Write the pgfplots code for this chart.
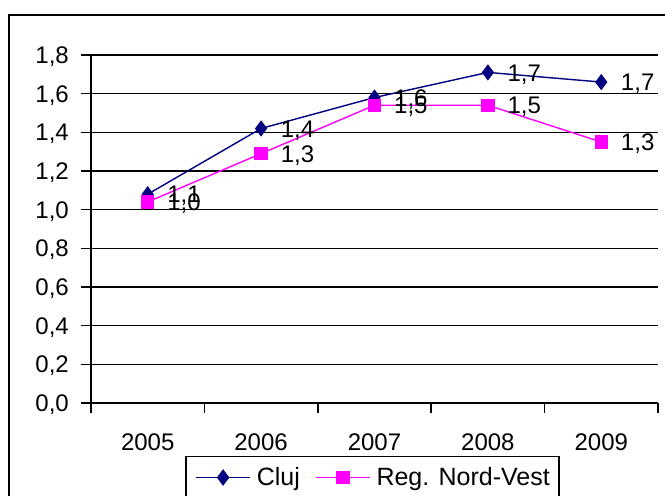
\documentclass[border=0pt]{standalone}
\usepackage{pgfplots}
\pgfplotsset{compat=1.18}
\usepackage{fontspec}
\setmainfont{Liberation Sans}
\definecolor{cluj}{RGB}{0,0,128}
\definecolor{nordvest}{RGB}{255,0,255}

\begin{document}
\begin{tikzpicture}[font=\fontsize{24}{28}\selectfont]
% outer chart frame (right and bottom edges lie outside the page)
\draw[line width=1.6pt] (9pt,-40pt) rectangle (720pt,481pt);
\begin{axis}[
    at={(91pt,93pt)}, anchor=south west,
    scale only axis, width=567pt, height=348pt,
    xmin=-0.5, xmax=4.5, ymin=0, ymax=1.8,
    axis x line*=bottom, axis y line*=left,
    axis line style={line width=1.6pt, -},
    xtick={0,1,2,3,4},
    xticklabels={2005,2006,2007,2008,2009},
    major x tick style={draw=none},
    minor xtick={-0.5,0.5,1.5,2.5,3.5,4.5},
    ytick={0,0.2,0.4,0.6,0.8,1.0,1.2,1.4,1.6,1.8},
    tick align=outside,
    major tick length=10pt, minor tick length=10pt,
    tick style={black, line width=1.6pt},
    ymajorgrids, grid style={black, line width=1.6pt},
    xticklabel style={inner sep=0pt, anchor=base, yshift=-37pt},
    yticklabel style={inner sep=0pt, anchor=base east, xshift=-12pt, yshift=-8.6pt},
    /pgf/number format/.cd, fixed, fixed zerofill, precision=1, use comma,
      assume math mode=true,
    /pgfplots/.cd,
    nodes near coords,
    point meta=explicit symbolic,
    every node near coord/.append style={anchor=base west, inner sep=0pt,
      xshift=19pt, yshift=-8.6pt, text=black},
    legend columns=-1,
    legend style={at={(0.4965,-0.152)}, anchor=north, draw=black, line width=1.6pt,
      font=\fontsize{25}{29}\selectfont,
      inner xsep=9pt, inner ysep=4pt,
      nodes={inner xsep=0pt, inner ysep=7pt},
      /tikz/every odd column/.append style={column sep=6pt},
      /tikz/every even column/.append style={column sep=15pt}},
    legend image code/.code={
      \draw[#1, line width=1.6pt] plot[mark repeat=2, mark phase=2]
        coordinates {(0pt,0pt) (27pt,0pt) (54pt,0pt)};},
]
\addplot[cluj, line width=1.4pt, mark=diamond*, mark size=7pt,
  mark options={solid, fill=cluj, draw=cluj}]
  coordinates {(0,1.08) [1,1] (1,1.42) [1,4] (2,1.58) [1,6] (3,1.71) [1,7] (4,1.66) [1,7]};
\addlegendentry{Cluj}
\addplot[nordvest, line width=1.4pt, mark=square*, mark size=6pt,
  mark options={solid, fill=nordvest, draw=nordvest}]
  coordinates {(0,1.04) [1,0] (1,1.29) [1,3] (2,1.54) [1,5] (3,1.54) [1,5] (4,1.35) [1,3]};
\addlegendentry{Reg. Nord-Vest}
\end{axis}
\pgfresetboundingbox
\path[use as bounding box] (0pt,0pt) rectangle (665pt,496pt);
\end{tikzpicture}
\end{document}
